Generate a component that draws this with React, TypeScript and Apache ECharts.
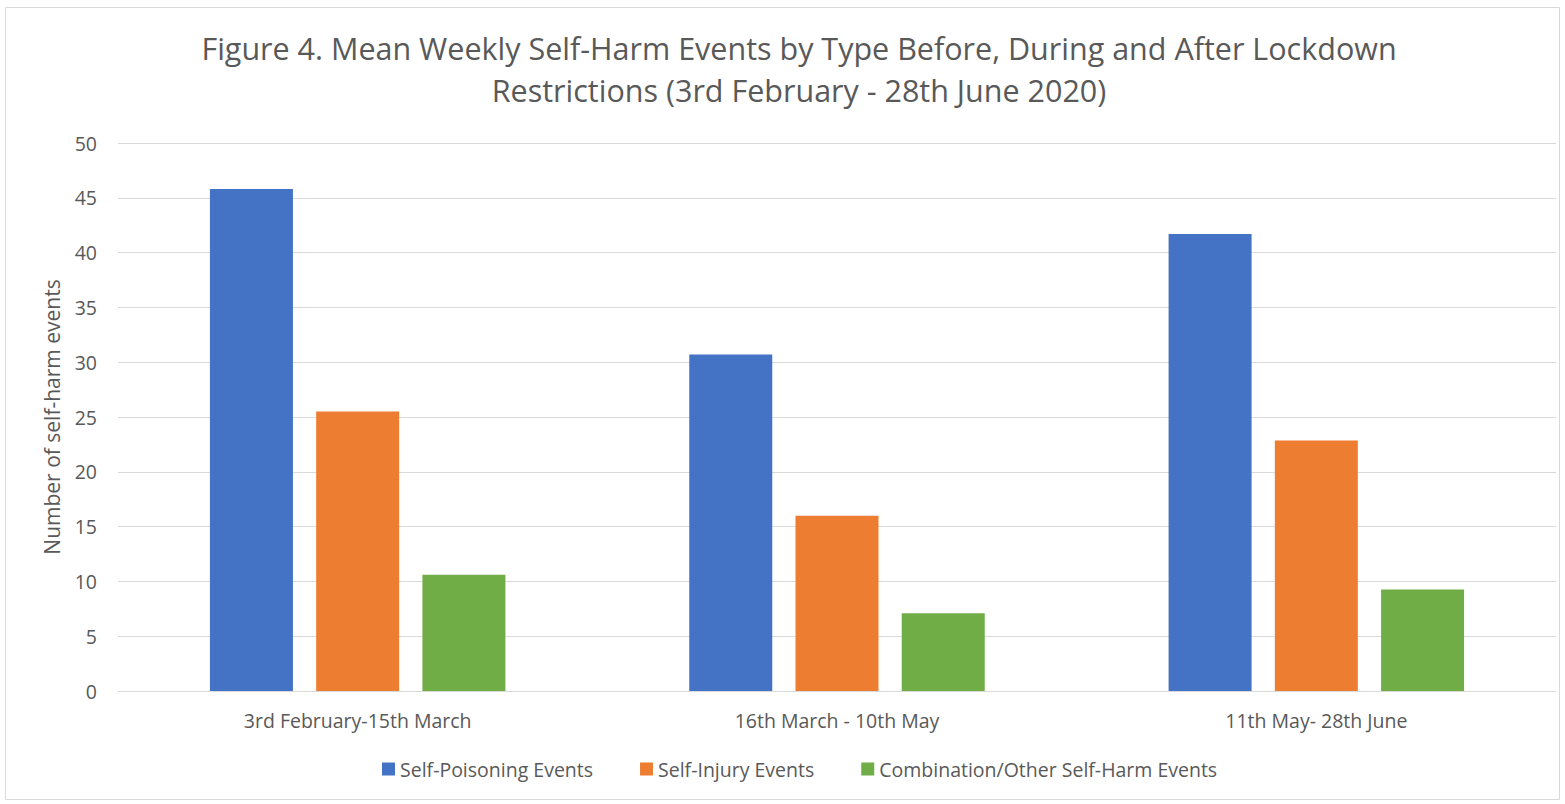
import React, { useEffect, useRef } from "react";
import * as echarts from "echarts";

const categories = ["3rd February-15th March", "16th March - 10th May", "11th May- 28th June"];
const selfPoisoning = [45.8, 30.7, 41.7];
const selfInjury = [25.5, 16.0, 22.85];
const combination = [10.6, 7.1, 9.25];
const seriesNames = ["Self-Poisoning Events", "Self-Injury Events", "Combination/Other Self-Harm Events"];
const colors = ["#4472C4", "#ED7D31", "#70AD47"];
const titleText = "Figure 4. Mean Weekly Self-Harm Events by Type Before, During and After Lockdown\nRestrictions (3rd February - 28th June 2020)";

const FONT = "'Open Sans', 'Noto Sans', sans-serif";

export default function App() {
  const ref = useRef<HTMLDivElement>(null);
  useEffect(() => {
    document.body.style.margin = "0";
    const chart = echarts.init(ref.current!, null, { renderer: "svg" });
    const data = [selfPoisoning, selfInjury, combination];
    chart.setOption({
      animation: false,
      backgroundColor: "#ffffff",
      title: {
        text: titleText,
        left: 794,
        textAlign: "center",
        top: 22,
        textStyle: { fontFamily: FONT, fontSize: 30.5, fontWeight: "normal", color: "#595959", lineHeight: 42 },
      },
      graphic: [
        {
          type: "rect",
          shape: { x: 5.5, y: 7.5, width: 1554, height: 792 },
          style: { fill: "none", stroke: "#d9d9d9", lineWidth: 1 },
          silent: true,
        },
      ],
      legend: {
        bottom: 20,
        left: 377,
        itemWidth: 13,
        itemHeight: 13,
        itemGap: 47,
        icon: "rect",
        textStyle: { fontFamily: FONT, fontSize: 19.5, color: "#595959" },
        data: seriesNames,
      },
      grid: { left: 118, right: 9, top: 143, bottom: 113, containLabel: false },
      xAxis: {
        type: "category",
        data: categories,
        axisLine: { lineStyle: { color: "#d9d9d9", width: 1 } },
        axisTick: { show: false },
        axisLabel: { fontFamily: FONT, fontSize: 19.5, color: "#595959", margin: 19 },
      },
      yAxis: {
        type: "value",
        min: 0,
        max: 50,
        interval: 5,
        name: "Number of self-harm events",
        nameLocation: "middle",
        nameGap: 56,
        nameTextStyle: { fontFamily: FONT, fontSize: 21, color: "#595959" },
        axisLine: { show: false },
        axisTick: { show: false },
        axisLabel: { fontFamily: FONT, fontSize: 19.5, color: "#595959", margin: 21 },
        splitLine: { lineStyle: { color: "#d9d9d9", width: 1 } },
      },
      series: seriesNames.map((name, i) => ({
        name,
        type: "bar",
        data: data[i],
        barWidth: 83,
        barGap: "28%",
        itemStyle: { color: colors[i] },
      })),
    });
    return () => chart.dispose();
  }, []);
  return <div ref={ref} style={{ width: 1565, height: 804 }} />;
}
